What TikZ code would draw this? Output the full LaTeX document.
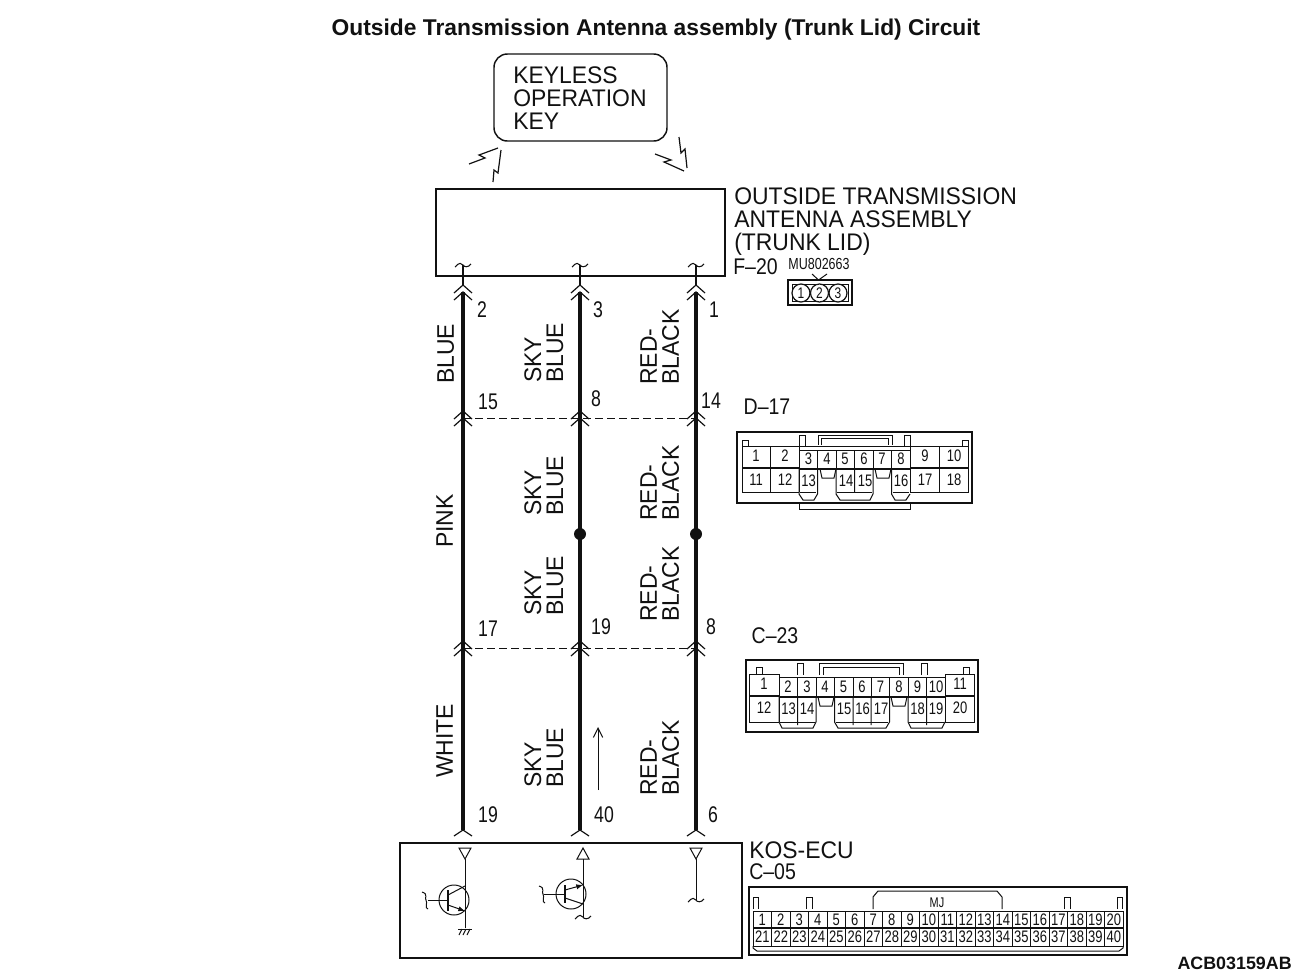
\documentclass[tikz,border=0pt]{standalone}
\usepackage{fontspec}
\setmainfont{Liberation Sans}
\newfontfamily\narrowf[FakeStretch=0.78]{Liberation Sans}
\newfontfamily\midf[FakeStretch=0.86]{Liberation Sans}
\newfontfamily\labf[FakeStretch=0.955]{Liberation Sans}
\usetikzlibrary{arrows.meta,calc}
\definecolor{ink}{HTML}{111111}
\tikzset{
  lab/.style={inner sep=0pt,anchor=west,text=ink,font=\labf\fontsize{18}{17.25}\selectfont},
  multi/.style={inner sep=0pt,anchor=north west,align=left,text=ink,font=\labf\fontsize{18}{17.25}\selectfont},
  tag/.style={inner sep=0pt,anchor=center,text=ink,font=\narrowf\fontsize{17}{17}\selectfont},
  ctag/.style={inner sep=0pt,anchor=center,text=ink,font=\midf\fontsize{17}{17}\selectfont},
  pin/.style={inner sep=0pt,anchor=center,text=ink,font=\narrowf\fontsize{12.5}{12.5}\selectfont},
  wirelab/.style={inner sep=0pt,anchor=north west,align=left,rotate=90,text=ink,font=\labf\fontsize{18}{16.5}\selectfont},
  box/.style={draw=ink,line width=1.1pt},
  fine/.style={draw=ink,line width=.75pt},
  wire/.style={draw=ink,line width=3.6pt},
  stub/.style={draw=ink,line width=.8pt},
  bolt/.style={draw=ink,line width=.9pt},
  joint/.style={draw=ink,dashed,dash pattern=on 6pt off 3pt,line width=.6pt},
}
% double chevron with its apex at the given coordinate
\newcommand{\chev}[1]{\draw[draw=ink,line width=.9pt] ($(#1)+(-9,8)$) -- (#1) -- ($(#1)+(9,8)$)
   ($(#1)+(-9,15)$) -- ($(#1)+(0,7)$) -- ($(#1)+(9,15)$);}
\newcommand{\wave}[1]{\draw[stub] ($(#1)+(-8,2)$) .. controls ($(#1)+(-4,-3)$) and ($(#1)+(-1,-2)$) .. (#1) .. controls ($(#1)+(1,2)$) and ($(#1)+(5,3)$) .. ($(#1)+(8,-1)$);}
\begin{document}
\begin{tikzpicture}[x=.75pt,y=-.75pt]
\useasboundingbox (0,0) rectangle (1303,979);
\node[inner sep=0pt,anchor=center,font=\bfseries\fontsize{17.1}{17}\selectfont,text=ink] (title) at (656,30) {Outside Transmission Antenna assembly (Trunk Lid) Circuit};

% key
\draw[box,rounded corners=10pt] (494,54) rectangle (667,141);
\node[multi] (key) at (513,66) {KEYLESS\\OPERATION\\KEY};
\draw[bolt] (469,164) -- (485,158) -- (479,155) -- (498,148);
\draw[bolt] (493,182) -- (494,170) -- (498,173) -- (501,150);
\draw[bolt] (679,137) -- (681,153) -- (685,149) -- (687,168);
\draw[bolt] (655,154) -- (671,160) -- (664,162) -- (684,171);

% antenna
\draw[box] (436,189) rectangle (725,276);
\node[multi] (ant) at (734,187) {OUTSIDE TRANSMISSION\\ANTENNA ASSEMBLY\\(TRUNK LID)};
\node[ctag] (f20) at (755.5,267) {F–20};
\node[inner sep=0pt,text=ink,font=\narrowf\fontsize{12}{12}\selectfont] (mu) at (819,264) {MU802663};
\draw[box] (788,280) rectangle (852,305);
\draw[fine] (792,284) rectangle (848,301);
\draw[fine] (812,274) -- (818.5,280) -- (827,274);
\foreach \n/\x in {1/801,2/819.5,3/838}{
  \draw[fill=white,draw=ink,line width=.9pt] (\x,293) circle[radius=9];
  \node[pin,font=\narrowf\fontsize{11.5}{12}\selectfont] (f\n) at (\x,293) {\n};
}

% wire coordinates
\foreach \w/\x in {a/463,b/580,c/696}{
  \coordinate (\w s) at (\x,265);
  \coordinate (\w t) at (\x,285);
  \coordinate (\w u) at (\x,292);
  \coordinate (\w j) at (\x,411);
  \coordinate (\w k) at (\x,418);
  \coordinate (\w m) at (\x,641);
  \coordinate (\w n) at (\x,648);
  \coordinate (\w e) at (\x,830);
}
\foreach \w in {a,b,c}{
  \wave{\w s}
  \draw[stub] (\w s) -- (\w t);
  \chev{\w t}
  \chev{\w j}
  \chev{\w m}
  \draw[wire] (\w u) -- (\w e);
  \draw[draw=ink,line width=.9pt] ($(\w e)+(-9,6)$) -- (\w e) -- ($(\w e)+(9,6)$);
}
\path[joint] (ak) -- (bk) -- (ck);
\path[joint] (an) -- (bn) -- (cn);
\fill[ink] (580,534) coordinate (bd) circle[radius=6];
\fill[ink] (696,534) coordinate (cd) circle[radius=6];

% pin numbers at wires
\foreach \i/\t/\x/\y in {p1/2/482/310,p2/3/598/310,p3/1/714/310,p4/15/488/402,p5/8/596/399,p6/14/711/401,p7/17/488/629,p8/19/601/627,p9/8/711/627,p10/19/488/815,p11/40/604/815,p12/6/713/815}{
  \node[tag] (\i) at (\x,\y) {\t};
}

% wire colour labels
\node[wirelab] (l1) at (437,384) {BLUE};
\node[wirelab] (l2) at (436,548) {PINK};
\node[wirelab] (l3) at (436,778) {WHITE};
\foreach \i/\y in {1/383,2/516,3/616,4/788}{
  \node[wirelab] (s\i) at (524,\y) {SKY\\BLUE};
}
\foreach \i/\y in {1/385,2/521,3/622,4/796}{
  \node[wirelab] (r\i) at (640,\y) {RED-\\BLACK};
}
\coordinate (arA) at (598,790); \coordinate (arB) at (598,727);
\draw[draw=ink,line width=.75pt,-{Straight Barb[length=7pt,width=7pt]}] (arA) -- (arB);

% D-17
\node[ctag] (d17) at (767,407) {D–17};
\draw[box] (737,432) rectangle (972,503);
\draw[fine] (799,503) -- (799,509) -- (910,509) -- (910,503);
\draw[fine] (818,445) -- (818,435) -- (892,435) -- (892,445);
\draw[fine] (821,445) -- (821,438) -- (888,438) -- (888,445);
\foreach \a/\b/\c in {742/748/440,799/805/435,904/910/435,962/968/440}{
  \draw[fine] (\a,446) -- (\a,\c) -- (\b,\c) -- (\b,446);
}
\draw[fine] (742,446) -- (968,446);
\draw[fine] (742,446) -- (742,492) -- (799,492) (910,492) -- (968,492) -- (968,446);
\draw[fine] (770,446) -- (770,492) (799,446) -- (799,492) (910,446) -- (910,492) (939,446) -- (939,492);
\draw[draw=ink,line width=1.4pt] (742,468) -- (799,468) (910,468) -- (968,468);
\draw[fine] (799,450) -- (910,450);
\foreach \x in {817.5,836,854.5,873,891.5}{\draw[fine] (\x,450) -- (\x,469);}
\draw[draw=ink,line width=1.4pt] (799,469) -- (910,469);
\draw[fine] (799,469) -- (799,494) -- (803,500) -- (814,500) -- (817.5,494) -- (817.5,469);
\draw[fine] (836,469) -- (836,494) -- (840,500) -- (870,500) -- (873,494) -- (873,469) (854.5,469) -- (854.5,492);
\draw[fine] (891.5,469) -- (891.5,494) -- (895,500) -- (906,500) -- (910,494);
\draw[fine] (800,492) -- (816,492) (837,492) -- (872,492) (893,492) -- (909,492);
\draw[fine] (820,469) -- (822,478) -- (834,478) -- (836,469) (875,469) -- (877,478) -- (889,478) -- (891,469);
\foreach \n/\x/\y in {1/756/456,2/785/456,3/808.5/459,4/827/459,5/845/459,6/864/459,7/882/459,8/901/459,9/925/456,10/954/456,11/756/480,12/785/480,13/808.5/481,14/846/481,15/865/481,16/901/481,17/925/480,18/954/480}{
  \node[pin] (d\n) at (\x,\y) {\n};
}

% C-23
\node[ctag] (c23) at (775,636) {C–23};
\draw[box] (746,660) rectangle (978,732);
\draw[fine] (819,675) -- (819,663) -- (903,663) -- (903,675);
\draw[fine] (823,675) -- (823,667) -- (899,667) -- (899,675);
\foreach \a/\b/\c in {756/762/667,797/803/663,921/927/663,963/969/667}{
  \draw[fine] (\a,675) -- (\a,\c) -- (\b,\c) -- (\b,675);
}
\draw[fine] (749,674) -- (779,674) -- (779,677) -- (945,677) -- (945,674) -- (974,674) -- (974,722) -- (945,722) (779,722) -- (749,722) -- (749,674);
\draw[draw=ink,line width=1.4pt] (749,696) -- (779,696) (945,696) -- (974,696) (779,697) -- (945,697);
\draw[fine] (779,677) -- (779,722) (945,677) -- (945,722);
\foreach \x in {797.5,816,834.5,853,871,889.5,908,926.5}{\draw[fine] (\x,677) -- (\x,697);}
\draw[fine] (779,697) -- (779,722) -- (782,728) -- (813,728) -- (816,722) -- (816,697) (797.5,697) -- (797.5,725);
\draw[fine] (834.5,697) -- (834.5,722) -- (838,728) -- (886,728) -- (889.5,722) -- (889.5,697) (853,697) -- (853,725) (871,697) -- (871,725);
\draw[fine] (908,697) -- (908,722) -- (911,728) -- (942,728) -- (945,722) (926.5,697) -- (926.5,725);
\draw[fine] (780,722) -- (815,722) (836,722) -- (888,722) (909,722) -- (944,722);
\draw[fine] (818,697) -- (820,706) -- (832,706) -- (834,697) (891,697) -- (893,706) -- (905,706) -- (907,697);
\foreach \n/\x/\y in {1/764/684,2/788/687,3/807/687,4/825/687,5/843.5/687,6/862/687,7/880.5/687,8/899/687,9/917.5/687,10/936/687,11/960/684,12/764/708,13/788.5/709,14/807/709,15/844/709,16/862.5/709,17/881/709,18/917.5/709,19/936/709,20/960/708}{
  \node[pin] (c\n) at (\x,\y) {\n};
}

% ECU
\draw[box] (400,843) rectangle (742,958);
\node[lab] (ecu) at (749,850) {KOS-ECU};
\node[ctag,anchor=west] (c05) at (749,872) {C–05};
% transistor 1
\coordinate (t1) at (465,859); \coordinate (t1g) at (465,928);
\draw[fine] (459,848) -- (471,848) -- (465,859) -- cycle;
\draw[fine] (t1) -- (t1g);
\draw[fine] (454,900) circle[radius=15];
\draw[fine] (428,900) -- (448,900);
\draw[draw=ink,line width=.9pt] (448,890) -- (448,911);
\draw[fine] (448,895) -- (465,886);
\draw[fine,-{Latex[length=5pt,width=4pt]}] (448,905) -- (465,911);
\draw[fine] (458,929) -- (472,929);
\foreach \x in {460,464,468}{\draw[fine] (\x+2,929) -- (\x-1,935);}
\draw[fine] (422,892) .. controls (429,894) and (424,899) .. (426,900) .. controls (428,903) and (424,908) .. (428,909);
% transistor 2
\coordinate (t2) at (583,859); \coordinate (t2w) at (583,917);
\draw[fine] (577,859) -- (589,859) -- (583,848) -- cycle;
\draw[fine] (t2) -- (t2w);
\wave{t2w}
\draw[fine] (571,894) circle[radius=15];
\draw[fine] (544,894) -- (565,894);
\draw[draw=ink,line width=.9pt] (565,885) -- (565,903);
\draw[fine,-{Latex[length=5pt,width=4pt]}] (565,890) -- (583,885);
\draw[fine] (565,898) -- (583,904);
\draw[fine] (539,886) .. controls (546,888) and (541,893) .. (543,894) .. controls (545,897) and (541,902) .. (545,903);
% open line
\coordinate (t3) at (696,859); \coordinate (t3w) at (696,900);
\draw[fine] (690,848) -- (702,848) -- (696,859) -- cycle;
\draw[fine] (t3) -- (t3w);
\wave{t3w}

% C-05 connector
\draw[box] (749,887) rectangle (1127,955);
\draw[fine] (873,909) -- (873,897) -- (878,891) -- (997,891) -- (1002,897) -- (1002,909);
\foreach \a/\b in {753/758,806/812,1064/1070,1117/1122}{
  \draw[fine] (\a,909) -- (\a,897) -- (\b,897) -- (\b,909);
}
\draw[fine] (753,911) rectangle (1123,946);
\draw[fine] (753,946) -- (753,948) -- (757,951) -- (1119,951) -- (1123,948) -- (1123,946);
\draw[draw=ink,line width=1.1pt] (753,928) -- (1123,928);
\foreach \i in {1,...,19}{\draw[fine] ({753+18.5*\i},911) -- ({753+18.5*\i},946);}
\foreach \i in {1,...,20}{
  \pgfmathtruncatemacro{\j}{\i+20}
  \node[pin] (e\i) at ({743.75+18.5*\i},920) {\i};
  \node[pin] (e\j) at ({743.75+18.5*\i},937) {\j};
}
\node[inner sep=0pt,text=ink,font=\narrowf\fontsize{10.5}{11}\selectfont] (mj) at (937,903) {MJ};

\node[inner sep=0pt,anchor=east,text=ink,font=\bfseries\fontsize{13.4}{14}\selectfont] (code) at (1292,963) {ACB03159AB};
\end{tikzpicture}
\end{document}
